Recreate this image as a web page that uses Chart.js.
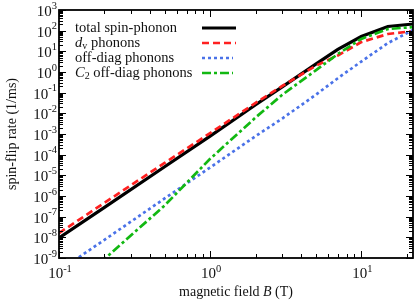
<!DOCTYPE html>
<html><head><meta charset="utf-8">
<script src="https://cdn.jsdelivr.net/npm/chart.js@4/dist/chart.umd.min.js"></script>
<style>html,body{margin:0;padding:0;background:#fff}#wrap{width:416px;height:304px;position:relative}</style>
</head><body><div id="wrap"><canvas id="c" width="416" height="304"></canvas></div>
<script>
// magnetic field B (T)
const fieldB = [0.1, 0.2, 0.5, 1, 2, 3, 5, 7, 10, 15, 22];
// spin-flip rates (1/ms)
const totalRate = [9.3e-9, 2.8e-7, 2.6e-5, 7.9e-4, 2.6e-2, 0.19, 2.4, 12.5, 52, 160, 210];
const dvRate    = [1.6e-8, 4.7e-7, 4.0e-5, 1.1e-3, 3.2e-2, 0.21, 2.0, 6.3, 28, 69, 95];
const offRate   = [2.4e-10, 7.6e-9, 7.6e-7, 2.4e-5, 7.9e-4, 5.6e-3, 7.9e-2, 0.5, 3.2, 25, 107];
const c2Rate    = [1.0e-11, 8.9e-10, 3.5e-7, 6.3e-5, 6.3e-3, 7.9e-2, 1.2, 7.4, 40, 120, 150];
const xTickExps = [-1, 0, 1];
const yTickExps = [-9, -8, -7, -6, -5, -4, -3, -2, -1, 0, 1, 2, 3];
const seriesNames = ["total spin-phonon", "d_v phonons", "off-diag phonons", "C_2 off-diag phonons"];

const FONT = '"Liberation Serif", "Times New Roman", serif';
const pts = arr => arr.map((v, i) => ({x: fieldB[i], y: v}));

const styles = [
  {color: '#000000', width: 3.2, dash: []},
  {color: '#ff2020', width: 2.7, dash: [7, 4]},
  {color: '#4a72e8', width: 2.7, dash: [3, 3]},
  {color: '#12b812', width: 2.7, dash: [9, 3, 3, 3]}
];
const seriesData = [totalRate, dvRate, offRate, c2Rate];

function drawRich(ctx, parts, x, y, align) {
  let w = 0;
  parts.forEach(p => { ctx.font = (p.italic ? 'italic ' : '') + p.size + 'px ' + FONT; p.w = ctx.measureText(p.t).width; w += p.w; });
  let sx = align === 'right' ? x - w : align === 'center' ? x - w / 2 : x;
  ctx.textBaseline = 'middle'; ctx.textAlign = 'left';
  parts.forEach(p => { ctx.font = (p.italic ? 'italic ' : '') + p.size + 'px ' + FONT; ctx.fillText(p.t, sx, y + (p.dy || 0)); sx += p.w; });
}

const deco = {
  id: 'deco',
  afterDraw(chart) {
    const ctx = chart.ctx, xs = chart.scales.x, ys = chart.scales.y, a = chart.chartArea;
    ctx.save();
    ctx.strokeStyle = '#000'; ctx.fillStyle = '#000';
    ctx.lineWidth = 1;
    ctx.beginPath();
    for (let e = -1; e <= 1; e++) {
      for (let m = 1; m <= 9; m++) {
        const v = m * Math.pow(10, e);
        if (v < xs.min - 1e-12 || v > xs.max) continue;
        const px = Math.round(xs.getPixelForValue(v)) + 0.5;
        const len = m === 1 ? 7 : 4;
        ctx.moveTo(px, a.bottom); ctx.lineTo(px, a.bottom - len);
        ctx.moveTo(px, a.top); ctx.lineTo(px, a.top + len);
      }
    }
    for (let e = -9; e <= 3; e++) {
      for (let m = 1; m <= 9; m++) {
        const v = m * Math.pow(10, e);
        if (v < ys.min * 0.999 || v > ys.max * 1.001) continue;
        const py = Math.round(ys.getPixelForValue(v)) + 0.5;
        const len = m === 1 ? 7 : 4;
        ctx.moveTo(a.left, py); ctx.lineTo(a.left + len, py);
        ctx.moveTo(a.right, py); ctx.lineTo(a.right - len, py);
      }
    }
    ctx.stroke();
    ctx.lineWidth = 1.8;
    ctx.strokeRect(a.left, a.top, a.right - a.left, a.bottom - a.top);
    ctx.fillStyle = '#111';
    yTickExps.forEach(e => {
      const py = ys.getPixelForValue(Math.pow(10, e));
      drawRich(ctx, [{t: '10', size: 15, dy: 2}, {t: String(e), size: 10.5, dy: -4}], a.left - 2, py, 'right');
    });
    xTickExps.forEach(e => {
      const px = xs.getPixelForValue(Math.pow(10, e));
      drawRich(ctx, [{t: '10', size: 15, dy: 0}, {t: String(e), size: 10.5, dy: -5}], px + 1, 274, 'center');
    });
    drawRich(ctx, [{t: 'magnetic field ', size: 14}, {t: 'B', size: 14, italic: true}, {t: ' (T)', size: 14}], 236, 292, 'center');
    ctx.save();
    ctx.translate(12, 134); ctx.rotate(-Math.PI / 2);
    drawRich(ctx, [{t: 'spin-flip rate (1/ms)', size: 14}], 0, 0, 'center');
    ctx.restore();
    const rowsY = [28, 43, 58, 73];
    const labels = [
      [{t: seriesNames[0], size: 14.5}],
      [{t: 'd', size: 14.5, italic: true}, {t: 'v', size: 10, dy: 3}, {t: seriesNames[1].slice(3), size: 14.5}],
      [{t: seriesNames[2], size: 14.5}],
      [{t: 'C', size: 14.5, italic: true}, {t: '2', size: 10, dy: 3}, {t: seriesNames[3].slice(3), size: 14.5}]
    ];
    labels.forEach((l, i) => {
      ctx.fillStyle = '#111';
      drawRich(ctx, l, 75, rowsY[i], 'left');
      const s = styles[i];
      ctx.beginPath();
      ctx.strokeStyle = s.color; ctx.lineWidth = s.width; ctx.setLineDash(s.dash);
      ctx.moveTo(202, rowsY[i]); ctx.lineTo(i >= 2 ? 233 : 236, rowsY[i]);
      ctx.stroke();
      ctx.setLineDash([]);
    });
    ctx.restore();
  }
};

new Chart(document.getElementById('c'), {
  type: 'scatter',
  data: {
    datasets: seriesData.map((d, i) => ({
      label: seriesNames[i],
      data: pts(d),
      showLine: true,
      borderColor: styles[i].color,
      borderWidth: styles[i].width,
      borderDash: styles[i].dash,
      pointRadius: 0,
      fill: false,
      tension: 0
    })).reverse()
  },
  options: {
    responsive: false,
    animation: false,
    devicePixelRatio: 1,
    layout: {padding: {left: 59, right: 3, top: 10, bottom: 46}},
    plugins: {legend: {display: false}, tooltip: {enabled: false}},
    scales: {
      x: {type: 'logarithmic', min: 0.1, max: 22, display: false},
      y: {type: 'logarithmic', min: 1e-9, max: 1e3, display: false}
    }
  },
  plugins: [deco]
});
</script></body></html>
